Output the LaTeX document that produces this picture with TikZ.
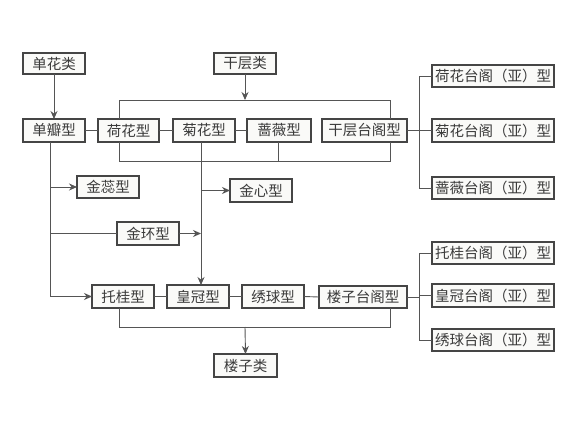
\documentclass[tikz,border=0pt]{standalone}
\usepackage{fontspec}
\setmainfont{Noto Sans CJK SC}
\usetikzlibrary{arrows.meta}
\definecolor{boxline}{HTML}{454545}
\definecolor{conn}{HTML}{555555}
\definecolor{txt}{HTML}{3A3A3A}
\definecolor{boxfill}{HTML}{FAFAF8}
\newcommand\mybx[6]{%
  \pgfmathsetmacro\bw{#4-#2}\pgfmathsetmacro\bh{#5-#3}%
  \pgfmathsetmacro\cx{(#2+#4)/2}\pgfmathsetmacro\cy{(#3+#5)/2}%
  \node[box,minimum width=\bw pt,minimum height=\bh pt] (#1) at (\cx,\cy) {#6};}
\begin{document}
\begin{tikzpicture}[x=1pt,y=-1pt,
  box/.style={draw=boxline,line width=1.1pt,fill=boxfill,inner sep=0pt,outer sep=0pt,
    text=txt,font=\fontsize{14.5}{16}\selectfont},
  ln/.style={draw=conn,line width=0.9pt},
  arr/.style={ln,-{Stealth[length=8pt,width=7pt]}}]
\useasboundingbox[fill=white] (0,0) rectangle (588,443);
\mybx{dhl}{23}{53}{85}{74}{单花类}
\mybx{qcl}{214}{53}{276}{74}{干层类}
\mybx{dbx}{23}{119}{85}{142}{单瓣型}
\mybx{hhx}{98}{119}{159}{142}{荷花型}
\mybx{jhx}{173}{119}{235}{142}{菊花型}
\mybx{qwx}{247}{119}{311}{142}{蔷薇型}
\mybx{qct}{322}{119}{407}{142}{干层台阁型}
\mybx{hht}{432}{65}{554}{87}{荷花台阁（亚）型}
\mybx{jht}{432}{119}{554}{142}{菊花台阁（亚）型}
\mybx{qwt}{432}{177}{554}{199}{蔷薇台阁（亚）型}
\mybx{jrx}{77}{176}{139}{198}{金蕊型}
\mybx{jxx}{230}{179}{292}{202}{金心型}
\mybx{jhn}{117}{222}{179}{245}{金环型}
\mybx{tgx}{92}{285}{154}{308}{托桂型}
\mybx{hgx}{167}{285}{229}{308}{皇冠型}
\mybx{xqx}{242}{285}{304}{308}{绣球型}
\mybx{lzt}{319}{286}{407}{308}{楼子台阁型}
\mybx{tgt}{432}{242}{554}{264}{托桂台阁（亚）型}
\mybx{hgt}{432}{284}{554}{307}{皇冠台阁（亚）型}
\mybx{xqt}{432}{329}{554}{351}{绣球台阁（亚）型}
\mybx{lzl}{214}{354}{277}{377}{楼子类}
% coordinates
\coordinate (tbL) at (119,100);
\coordinate (tbR) at (390,100);
\coordinate (bbL) at (119,161);
\coordinate (bbR) at (390,161);
\coordinate (bbM) at (278,161);
\coordinate (brA) at (419,130.5);
\coordinate (lv) at (50,142);
\coordinate (lvb) at (50,296.5);
\coordinate (mv) at (201,142);
\coordinate (b2L) at (119,327);
\coordinate (b2R) at (390,327);
\coordinate (b2M) at (245,327);
\coordinate (brB) at (419,297);
% upper group
\draw[arr] (dhl.south) -- (dbx.north);
\draw[arr] (qcl.south) -- (qcl.south |- tbL);
\draw[ln] (tbL |- hhx.north) -- (tbL) -- (tbR) -- (tbR |- qct.north);
\draw[ln] (bbL |- hhx.south) -- (bbL) -- (bbR) -- (bbR |- qct.south);
\draw[ln] (bbM |- qwx.south) -- (bbM);
\draw[ln] (dbx.east) -- (hhx.west);
\draw[ln] (hhx.east) -- (jhx.west);
\draw[ln] (jhx.east) -- (qwx.west);
\draw[ln] (qct.east) -- (brA);
\draw[ln] (hht.west) -| (brA |- hht.west) -- (brA |- qwt.west) -- (qwt.west);
\draw[ln] (brA) -- (jht.west);
% left vertical
\draw[arr] (lv |- dbx.south) -- (lvb) -- (tgx.west);
\draw[arr] (lv |- jrx.west) -- (jrx.west);
\draw[ln] (lv |- jhn.west) -- (jhn.west);
\draw[arr] (jhn.east) -- (mv |- jhn.east);
% middle vertical
\draw[arr] (mv |- jhx.south) -- (mv |- hgx.north);
\draw[arr] (mv |- jxx.west) -- (jxx.west);
% lower group
\draw[ln] (tgx.east) -- (hgx.west);
\draw[ln] (hgx.east) -- (xqx.west);
\draw[ln] (xqx.east) -- (lzt.west);
\draw[ln] (b2L |- tgx.south) -- (b2L) -- (b2R) -- (b2R |- lzt.south);
\draw[arr] (b2M) -- (lzl.north);
\draw[ln] (lzt.east) -- (brB);
\draw[ln] (tgt.west) -- (brB |- tgt.west) -- (brB |- xqt.west) -- (xqt.west);
\draw[ln] (brB |- hgt.west) -- (hgt.west);
\end{tikzpicture}
\end{document}
